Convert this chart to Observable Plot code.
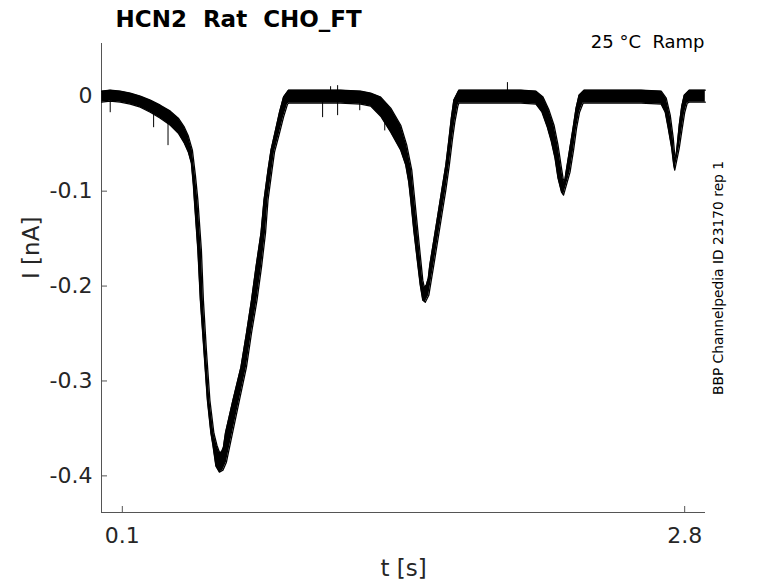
<!DOCTYPE html>
<html><head><meta charset="utf-8">
<script src="https://cdn.jsdelivr.net/npm/d3@7"></script>
<script src="https://cdn.jsdelivr.net/npm/@observablehq/plot@0.6"></script>
<style>body{margin:0;background:#fff} svg{display:block} svg text{white-space:pre}</style>
</head><body><div id="chart"></div>
<script>
const titleText = "HCN2  Rat  CHO_FT";
const conditionText = "25 °C  Ramp";
const sideText = "BBP Channelpedia ID 23170 rep 1";
const xLabel = "t [s]";
const yLabel = "I [nA]";
const xDomain = [0, 2.9];
const yDomain = [-0.4386, 0.0556];
const xTicks = [0.1, 2.8];
const xTickLabels = ["0.1", "2.8"];
const yTicks = [0, -0.1, -0.2, -0.3, -0.4];
const yTickLabels = ["0", "-0.1", "-0.2", "-0.3", "-0.4"];

// upper edge of the overlaid current sweeps (t in s, I in nA)
const upperT = [0.001,0.0418,0.0899,0.1380,0.1861,0.2342,0.2823,0.3304,0.3689,0.3978,0.4170,0.4363,0.4507,0.4627,0.4796,0.4892,0.5036,0.5204,0.5397,0.5541,0.5661,0.5758,0.5854,0.5902,0.5950,0.6311,0.6695,0.6960,0.7201,0.7417,0.7657,0.7802,0.7994,0.8138,0.8355,0.8547,0.8740,0.8980,0.9557,1.0520,1.1481,1.2443,1.2925,1.3405,1.3887,1.4367,1.4656,1.4897,1.5041,1.5185,1.5329,1.5426,1.5498,1.5594,1.5690,1.5762,1.5955,1.6147,1.6339,1.6532,1.6676,1.6796,1.6917,1.7157,1.8215,1.9177,2.0139,2.0861,2.1198,2.1486,2.1727,2.1919,2.2063,2.2160,2.2232,2.2304,2.2472,2.2641,2.2785,2.2929,2.3170,2.3988,2.4949,2.5911,2.6873,2.7114,2.7306,2.7451,2.7523,2.7571,2.7643,2.7739,2.7860,2.7980,2.8220,2.8605,2.8990];
const upperI = [0.0054,0.0064,0.0054,0.0033,0.0001,-0.0041,-0.0094,-0.0157,-0.0231,-0.0326,-0.0420,-0.0568,-0.0831,-0.1095,-0.1622,-0.2150,-0.2676,-0.3203,-0.3551,-0.3677,-0.3751,-0.3751,-0.3698,-0.3624,-0.3551,-0.3203,-0.2855,-0.2497,-0.2150,-0.1801,-0.1443,-0.1095,-0.0779,-0.0568,-0.0357,-0.0168,-0.0009,0.0064,0.0064,0.0064,0.0064,0.0054,0.0033,-0.0009,-0.0125,-0.0305,-0.0515,-0.0779,-0.1095,-0.1411,-0.1727,-0.1938,-0.2013,-0.1991,-0.1917,-0.1780,-0.1517,-0.1254,-0.0989,-0.0726,-0.0463,-0.0231,-0.0041,0.0064,0.0064,0.0064,0.0064,0.0054,-0.0009,-0.0146,-0.0305,-0.0515,-0.0726,-0.0863,-0.0905,-0.0800,-0.0568,-0.0336,-0.0125,0.0012,0.0064,0.0064,0.0064,0.0064,0.0054,-0.0020,-0.0199,-0.0441,-0.0621,-0.0652,-0.0515,-0.0305,-0.0104,0.0012,0.0064,0.0064,0.0064];
// lower edge of the overlaid current sweeps
const lowerT = [0.001,0.0418,0.0899,0.1380,0.1861,0.2342,0.2823,0.3304,0.3689,0.3978,0.4170,0.4315,0.4411,0.4459,0.4627,0.4747,0.4916,0.5084,0.5253,0.5349,0.5493,0.5661,0.5830,0.5998,0.6287,0.6623,0.6960,0.7201,0.7465,0.7682,0.7874,0.7994,0.8187,0.8307,0.8547,0.8740,0.8932,0.8980,0.9557,1.0520,1.1481,1.2443,1.2925,1.3405,1.3887,1.4367,1.4608,1.4752,1.4848,1.4993,1.5161,1.5305,1.5426,1.5546,1.5714,1.5955,1.6147,1.6339,1.6532,1.6700,1.6845,1.6965,1.7109,1.7157,1.8215,1.9177,2.0139,2.0861,2.1150,2.1390,2.1583,2.1775,2.1919,2.2087,2.2184,2.2496,2.2665,2.2809,2.2953,2.3122,2.3170,2.3988,2.4949,2.5911,2.6873,2.7066,2.7210,2.7378,2.7475,2.7523,2.7739,2.7884,2.8004,2.8124,2.8220,2.8605,2.8990];
const lowerI = [-0.0062,-0.0052,-0.0062,-0.0083,-0.0115,-0.0168,-0.0231,-0.0305,-0.0389,-0.0495,-0.0589,-0.0705,-0.0937,-0.1095,-0.1622,-0.2150,-0.2676,-0.3203,-0.3551,-0.3677,-0.3898,-0.3961,-0.3940,-0.3856,-0.3551,-0.3203,-0.2855,-0.2497,-0.2150,-0.1801,-0.1443,-0.1095,-0.0779,-0.0589,-0.0389,-0.0220,-0.0083,-0.0073,-0.0073,-0.0073,-0.0073,-0.0083,-0.0104,-0.0210,-0.0378,-0.0568,-0.0726,-0.0905,-0.1095,-0.1411,-0.1727,-0.1991,-0.2150,-0.2171,-0.2097,-0.1780,-0.1517,-0.1254,-0.0989,-0.0726,-0.0463,-0.0273,-0.0104,-0.0073,-0.0073,-0.0073,-0.0073,-0.0083,-0.0168,-0.0315,-0.0463,-0.0652,-0.0863,-0.1011,-0.1042,-0.0800,-0.0568,-0.0336,-0.0168,-0.0073,-0.0073,-0.0073,-0.0073,-0.0073,-0.0083,-0.0168,-0.0336,-0.0547,-0.0726,-0.0779,-0.0547,-0.0336,-0.0168,-0.0073,-0.0062,-0.0062,-0.0062];

// noise spikes that stick out of the band
const spikeT    = [0.0418, 0.2502, 0.3194, 1.0616, 1.1337, 1.1337, 1.1000, 1.2400, 1.3600, 1.9490];
const spikeFrom = [-0.004, -0.010, -0.027, -0.005, -0.005, 0.004, 0.004, -0.005, -0.015, 0.004];
const spikeTo   = [-0.0168, -0.0326, -0.0515, -0.0220, -0.0199, 0.0117, 0.0106, -0.0147, -0.036, 0.0149];

const band = upperT.map((t, k) => ({t1: t, i1: upperI[k], t2: lowerT[k], i2: lowerI[k]}));
const spikes = spikeT.map((t, k) => ({t, a: spikeFrom[k], b: spikeTo[k]}));

const axisColor = "#555";
const textColor = "#262626";

const chart = Plot.plot({
  width: 778, height: 583,
  marginLeft: 101, marginRight: 73, marginTop: 43, marginBottom: 71,
  x: {domain: xDomain, axis: null},
  y: {domain: yDomain, axis: null},
  style: {fontFamily: "DejaVu Sans", background: "white", overflow: "visible"},
  marks: [
    Plot.ruleX([xDomain[0]], {stroke: axisColor, strokeWidth: 1}),
    Plot.ruleY([yDomain[0]], {stroke: axisColor, strokeWidth: 1}),
    Plot.ruleX(xTicks, {x: d => d, insetTop: 463, stroke: axisColor}),
    Plot.ruleY(yTicks, {y: d => d, insetRight: 598, stroke: axisColor}),
    Plot.text(xTicks, {x: d => d, text: (d, k) => xTickLabels[k], frameAnchor: "bottom", dy: 30, lineAnchor: "bottom", fontSize: 22, fill: textColor}),
    Plot.text(yTicks, {y: d => d, text: (d, k) => yTickLabels[k], frameAnchor: "left", dx: -9, textAnchor: "end", lineAnchor: "middle", fontSize: 22, fill: textColor}),
    Plot.area(band, {x1: "t1", y1: "i1", x2: "t2", y2: "i2", fill: "black", curve: "linear"}),
    Plot.line(band, {x: "t1", y: "i1", stroke: "black", strokeWidth: 1.3}),
    Plot.line(band, {x: "t2", y: "i2", stroke: "black", strokeWidth: 1.3}),
    Plot.link(spikes, {x1: "t", y1: "a", x2: "t", y2: "b", stroke: "black", strokeWidth: 1}),
    Plot.text([titleText], {frameAnchor: "top-left", dx: 14, dy: -17, lineAnchor: "bottom", textAnchor: "start", fontSize: 23, fontWeight: "bold", fill: "black"}),
    Plot.text([conditionText], {frameAnchor: "top-right", dx: -1, dy: 4, lineAnchor: "bottom", textAnchor: "end", fontSize: 18, fill: "black"}),
    Plot.text([sideText], {frameAnchor: "right", dx: 13, rotate: -90, lineAnchor: "middle", textAnchor: "middle", fontSize: 13.8, fill: "black"}),
    Plot.text([xLabel], {frameAnchor: "bottom", dy: 63, lineAnchor: "bottom", fontSize: 23, fill: textColor}),
    Plot.text([yLabel], {frameAnchor: "left", dx: -70, dy: 1, rotate: -90, lineAnchor: "middle", fontSize: 23, fill: textColor})
  ]
});
document.getElementById("chart").appendChild(chart);
</script>
</body></html>
